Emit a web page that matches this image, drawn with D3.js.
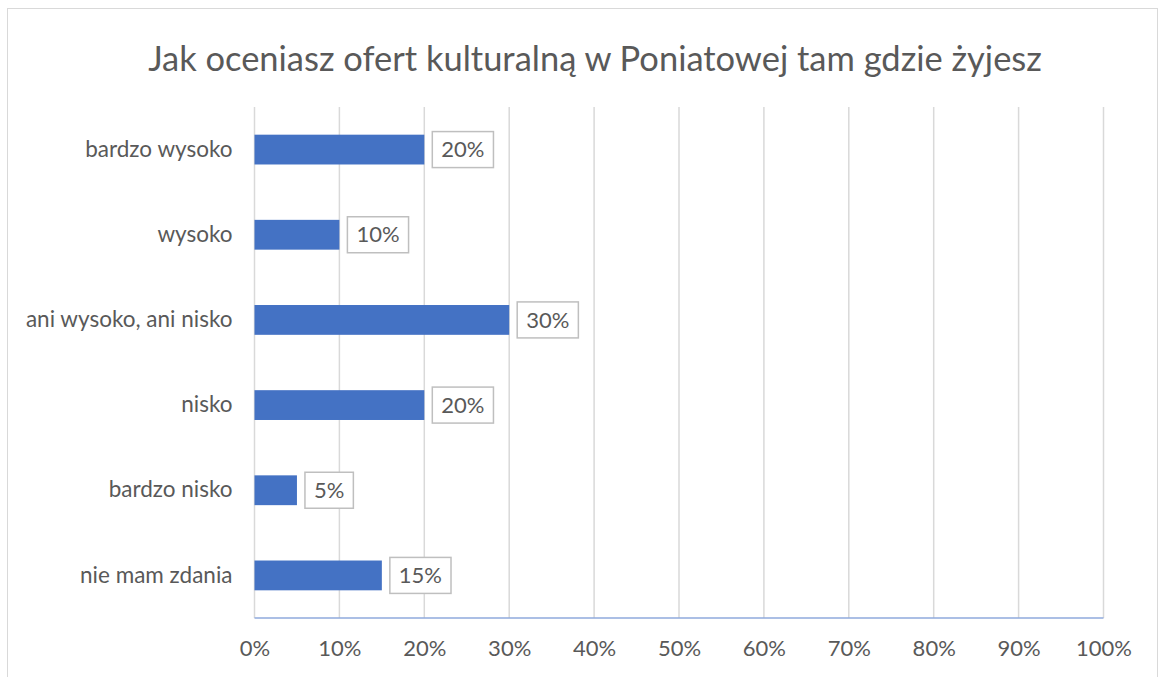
<!DOCTYPE html>
<html>
<head>
<meta charset="utf-8">
<script src="https://cdn.jsdelivr.net/npm/d3@7"></script>
<style>
  body { margin: 0; background: #fff; }
  svg { display: block; font-family: Lato, "Open Sans", sans-serif; }
</style>
</head>
<body>
<svg id="chart" width="1160" height="677"></svg>
<script>
const TITLE = "Jak oceniasz ofert kulturalną w Poniatowej tam gdzie żyjesz";
const categories = ["bardzo wysoko", "wysoko", "ani wysoko, ani nisko", "nisko", "bardzo nisko", "nie mam zdania"];
const values = [0.20, 0.10, 0.30, 0.20, 0.05, 0.15];
const xTicks = [0, 0.1, 0.2, 0.3, 0.4, 0.5, 0.6, 0.7, 0.8, 0.9, 1.0];

const TEXT_COLOR = "#595959";
const GRID_COLOR = "#d9d9d9";
const BAR_COLOR = "#4472c4";
const LABEL_SIZE = "22px";

const svg = d3.select("#chart");

// outer chart border
svg.append("rect")
  .attr("x", 7.5).attr("y", 8.5)
  .attr("width", 1150).attr("height", 700)
  .attr("fill", "#fff")
  .attr("stroke", GRID_COLOR)
  .attr("stroke-width", 1);

const x = d3.scaleLinear().domain([0, 1]).range([254.5, 1103.5]);
const y = d3.scaleBand().domain(categories).range([107, 618])
  .paddingInner(0.65).paddingOuter(0.325);

// title
const title = svg.append("text")
  .attr("x", 595).attr("y", 71)
  .attr("text-anchor", "middle")
  .attr("fill", TEXT_COLOR)
  .style("font-size", "32px")
  .text(TITLE);
// fit title width to the reference
const tw = title.node().getComputedTextLength();
title.style("font-size", (32 * 894 / tw) + "px");

// grid lines
svg.append("g")
  .selectAll("line")
  .data(xTicks)
  .join("line")
  .attr("x1", d => x(d)).attr("x2", d => x(d))
  .attr("y1", 107).attr("y2", 618)
  .attr("stroke", GRID_COLOR)
  .attr("stroke-width", 1.5);

// bars
svg.append("g")
  .selectAll("rect")
  .data(values)
  .join("rect")
  .attr("x", x(0))
  .attr("y", (d, i) => y(categories[i]))
  .attr("width", d => x(d) - x(0))
  .attr("height", y.bandwidth())
  .attr("fill", BAR_COLOR);

// axis line
svg.append("line")
  .attr("x1", x(0)).attr("x2", x(1))
  .attr("y1", 618).attr("y2", 618)
  .attr("stroke", "#8faadc")
  .attr("stroke-width", 1.5);

// x tick labels
const xAxis = d3.axisBottom(x).tickValues(xTicks).tickFormat(d3.format(".0%")).tickSize(0).tickPadding(22);
svg.append("g")
  .attr("transform", "translate(0,618)")
  .call(xAxis)
  .call(g => g.select(".domain").remove())
  .selectAll("text")
  .attr("fill", TEXT_COLOR)
  .style("font-family", "Lato, sans-serif")
  .style("font-size", LABEL_SIZE);

// category labels
const yAxis = d3.axisLeft(y).tickSize(0).tickPadding(22);
svg.append("g")
  .attr("transform", `translate(${x(0)},0)`)
  .call(yAxis)
  .call(g => g.select(".domain").remove())
  .selectAll("text")
  .attr("fill", TEXT_COLOR)
  .style("font-family", "Lato, sans-serif")
  .style("font-size", "22.5px");

// data labels with boxes
const labels = svg.append("g")
  .selectAll("g")
  .data(values)
  .join("g")
  .attr("transform", (d, i) => `translate(${x(d) + 8},${y(categories[i]) + y.bandwidth() / 2})`);

labels.append("rect")
  .attr("y", -18)
  .attr("height", 36)
  .attr("fill", "#fff")
  .attr("stroke", "#bfbfbf")
  .attr("stroke-width", 1.5);

labels.append("text")
  .attr("x", 9)
  .attr("dy", "0.35em")
  .attr("fill", TEXT_COLOR)
  .style("font-size", LABEL_SIZE)
  .text(d => d3.format(".0%")(d));

labels.each(function () {
  const g = d3.select(this);
  const w = g.select("text").node().getComputedTextLength();
  g.select("rect").attr("width", w + 18);
});
</script>
</body>
</html>
